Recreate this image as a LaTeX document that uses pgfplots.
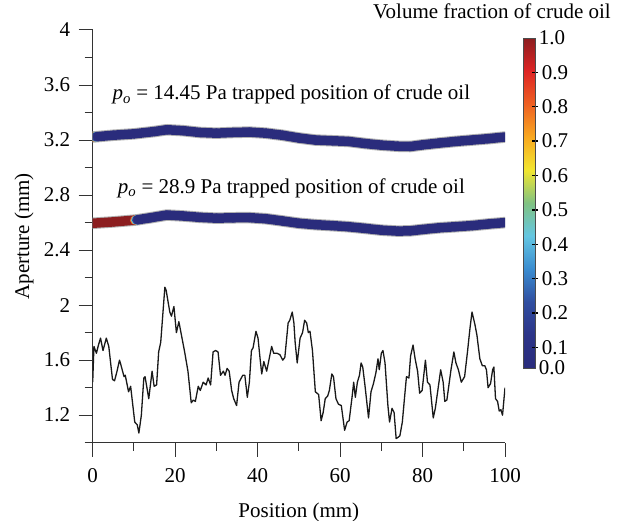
\documentclass[border=0pt]{standalone}
\usepackage{fontspec}
\setmainfont{Liberation Serif}
\usepackage{pgfplots}
\pgfplotsset{compat=1.18}
\usepackage{pgfplotstable}
\usetikzlibrary{calc}
\pgfplotsset{colormap={oil}{rgb255=(42,44,124) rgb255=(44,52,136) rgb255=(48,78,160) rgb255=(58,140,208) rgb255=(100,198,226) rgb255=(128,194,130) rgb255=(242,230,48) rgb255=(248,168,32) rgb255=(238,96,34) rgb255=(222,36,36) rgb255=(140,30,32)}}
\newcommand\bigf{\fontsize{21}{25}\selectfont}
\newcommand\po{\textit{p}\textsubscript{\textit{o}}}

\pgfplotstableread{
x y
0 1.44
0.3 1.70
0.9 1.65
1.4 1.71
1.9 1.76
2.5 1.67
3.3 1.76
3.9 1.70
4.8 1.46
5.3 1.45
5.9 1.52
6.5 1.60
6.8 1.57
7.6 1.48
7.9 1.49
8.7 1.37
9.2 1.41
10.2 1.15
10.8 1.13
11.2 1.07
11.8 1.20
12.4 1.47
12.7 1.48
13.6 1.32
14.4 1.52
14.9 1.41
15.5 1.42
16.0 1.66
16.5 1.73
17.5 2.13
17.8 2.11
18.7 1.95
19.1 1.92
19.7 1.99
20.3 1.80
20.9 1.88
22.3 1.66
23.1 1.52
23.9 1.29
24.4 1.31
24.9 1.30
25.6 1.41
26.1 1.38
26.8 1.44
27.5 1.42
28.0 1.47
28.6 1.42
29.2 1.66
29.8 1.67
30.4 1.66
31.0 1.49
31.7 1.52
32.1 1.49
32.6 1.54
33.1 1.52
33.7 1.38
34.2 1.32
34.9 1.27
35.5 1.44
36.4 1.49
36.9 1.49
37.5 1.33
38.0 1.44
38.5 1.67
38.9 1.69
39.6 1.81
40.1 1.76
40.6 1.61
41.0 1.50
41.5 1.59
42.2 1.52
43.4 1.70
43.9 1.65
44.7 1.65
45.4 1.64
46.1 1.60
46.6 1.62
47.4 1.87
47.8 1.89
48.4 1.95
48.8 1.87
49.1 1.73
49.6 1.58
50.3 1.76
50.9 1.80
51.4 1.89
51.9 1.87
52.3 1.80
52.7 1.81
53.3 1.67
54.0 1.37
54.4 1.36
54.8 1.35
55.4 1.16
55.9 1.22
56.4 1.32
57.0 1.34
57.4 1.38
58.0 1.50
58.4 1.48
59.0 1.32
59.6 1.28
60.3 1.27
61.1 1.09
61.7 1.15
62.2 1.16
62.9 1.33
63.3 1.44
63.7 1.33
64.2 1.44
64.7 1.49
65.1 1.58
65.5 1.55
66.1 1.40
66.9 1.18
67.5 1.37
68.1 1.43
68.7 1.51
69.2 1.61
69.5 1.53
70.0 1.65
70.4 1.67
70.9 1.58
71.6 1.27
72.0 1.15
72.6 1.25
73.1 1.22
73.6 1.03
74.1 1.04
74.5 1.05
75.1 1.15
75.7 1.35
76.1 1.48
76.7 1.47
77.1 1.63
77.7 1.71
78.2 1.61
78.8 1.52
79.3 1.36
79.9 1.38
80.7 1.60
81.2 1.44
81.8 1.42
82.6 1.18
83.1 1.25
83.8 1.40
84.4 1.53
85.0 1.44
85.4 1.30
85.9 1.31
86.4 1.42
86.9 1.53
87.6 1.66
88.1 1.58
88.7 1.53
89.4 1.44
90.2 1.48
90.9 1.66
91.5 1.83
92.0 1.95
92.7 1.86
93.2 1.78
93.9 1.61
94.5 1.56
95.1 1.56
95.5 1.53
95.9 1.40
96.5 1.43
97.0 1.53
97.3 1.55
97.7 1.32
98.2 1.30
98.6 1.23
99.0 1.24
99.4 1.20
100.0 1.40
}\aperture

\pgfplotstableread{
x y c
0 3.222 1.0
0.4 3.223 0.6
0.8 3.224 0.3
1.2 3.225 0.0
5 3.235 0
10 3.245 0
15 3.262 0
18 3.275 0
22 3.268 0
26 3.255 0
30 3.250 0
34 3.255 0
38 3.258 0
42 3.250 0
46 3.235 0
50 3.215 0
54 3.200 0
58 3.195 0
62 3.190 0
66 3.175 0
70 3.163 0
74 3.155 0
77 3.153 0
80 3.165 0
84 3.178 0
88 3.190 0
92 3.200 0
96 3.210 0
100 3.222 0
}\bandA

\pgfplotstableread{
x y c
0 2.595 1.0
5 2.605 1.0
10.2 2.618 1.0
10.45 2.619 0.6
10.7 2.620 0.3
11.0 2.621 0.0
14 2.635 0
18 2.655 0
22 2.648 0
26 2.638 0
30 2.632 0
34 2.635 0
38 2.636 0
42 2.628 0
46 2.612 0
50 2.595 0
54 2.585 0
58 2.578 0
62 2.570 0
66 2.558 0
70 2.545 0
74 2.538 0
77 2.540 0
80 2.550 0
84 2.562 0
88 2.570 0
92 2.578 0
96 2.590 0
100 2.600 0
}\bandB

\begin{document}
\begin{tikzpicture}[font=\bigf]
\useasboundingbox (-92.7pt,-78.3pt) rectangle (534.3pt,442.7pt);
\begin{axis}[
  at={(0pt,0pt)}, anchor=south west,
  scale only axis, width=412.3pt, height=412.7pt,
  xmin=0, xmax=100, ymin=1, ymax=4,
  axis lines=left, axis line style={-, black!80, line width=1pt},
  xtick={0,20,40,60,80,100}, minor xtick={10,30,50,70,90},
  ytick={1.2,1.6,2,2.4,2.8,3.2,3.6,4},
  yticklabels={1.2,1.6,2,2.4,2.8,3.2,3.6,4},
  minor ytick={1.0,1.4,1.8,2.2,2.6,3.0,3.4,3.8},
  tick align=outside, major tick length=14pt, minor tick length=8pt,
  tick style={black!80, line width=1pt},
  /pgf/number format/assume math mode=true,
  tick label style={font=\bigf},
  yticklabel style={xshift=-5pt},
  xticklabel style={yshift=-8pt},
  label style={font=\bigf},
  xlabel={Position (mm)}, ylabel={Aperture (mm)},
  xlabel style={at={(axis description cs:0.5,-0.168)}, anchor=center},
  ylabel style={at={(axis description cs:-0.1666,0.5)}, anchor=center},
  colorbar, colormap name=oil, point meta min=0.04, point meta max=1,
  colorbar style={
    at={($(parent axis.south west)+(422.3pt,74.7pt)$)}, anchor=south west,
    scale only axis, width=11.7pt, height=330pt,
    ytick={0.1,0.2,0.3,0.4,0.5,0.6,0.7,0.8,0.9},
    yticklabels={0.1,0.2,0.3,0.4,0.5,0.6,0.7,0.8,0.9},
    extra y ticks={0.04,1},
    extra y tick labels={0.0,1.0},
    extra y tick style={major tick length=0pt},
    yticklabel pos=right, ytick pos=right,
    tick align=center, major tick length=6pt,
    tick style={black, line width=1.3pt},
    axis line style={black!70, line width=0.8pt},
    /pgf/number format/assume math mode=true,
    yticklabel style={font=\bigf, anchor=west},
  },
]
\addplot[gray!60, line width=11.5pt, line cap=round, line join=round] table[x=x,y=y] {\bandA};
\addplot[mesh, point meta=explicit, line width=9.5pt, line cap=round, line join=round] table[x=x,y=y,meta=c] {\bandA};
\addplot[gray!60, line width=11.5pt, line cap=round, line join=round] table[x=x,y=y] {\bandB};
\addplot[mesh, point meta=explicit, line width=9.5pt, line cap=round, line join=round] table[x=x,y=y,meta=c] {\bandB};
\addplot[black!90, line width=1.3pt, line join=round] table[x=x,y=y] {\aperture};
\node at (axis cs:48.2,3.529) {\po{} = 14.45 Pa trapped position of crude oil};
\node at (axis cs:48.2,2.85) {\po{} = 28.9 Pa trapped position of crude oil};
\end{axis}
\node at (399.3pt,431.7pt) {Volume fraction of crude oil};
\end{tikzpicture}
\end{document}
